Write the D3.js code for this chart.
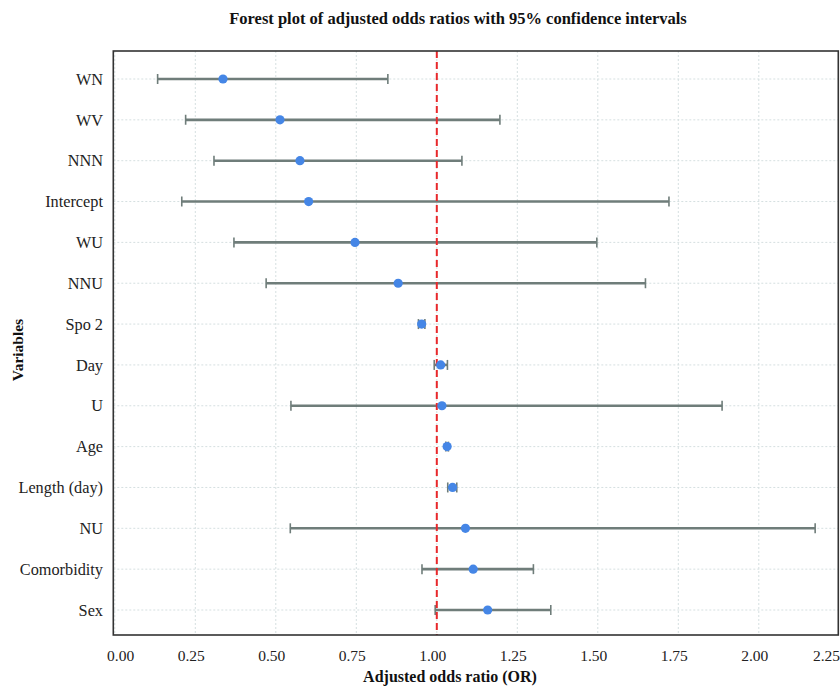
<!DOCTYPE html>
<html>
<head>
<meta charset="utf-8">
<script src="https://cdn.jsdelivr.net/npm/d3@7"></script>
<style>
  html, body { margin: 0; padding: 0; background: #fff; }
  svg { display: block; }
</style>
</head>
<body>
<svg id="chart" width="840" height="687"></svg>
<script>
// ---- Data ----
const variables = ["WN", "WV", "NNN", "Intercept", "WU", "NNU", "Spo 2", "Day", "U", "Age", "Length (day)", "NU", "Comorbidity", "Sex"];
const oddsRatio = [0.336, 0.513, 0.575, 0.602, 0.746, 0.880, 0.953, 1.012, 1.016, 1.032, 1.049, 1.089, 1.113, 1.158];
const ciLower   = [0.133, 0.220, 0.308, 0.208, 0.370, 0.470, 0.943, 0.992, 0.547, 1.028, 1.034, 0.545, 0.954, 0.995];
const ciUpper   = [0.848, 1.196, 1.078, 1.721, 1.497, 1.648, 0.963, 1.033, 1.886, 1.036, 1.062, 2.175, 1.300, 1.354];
const xTicks = [0, 0.25, 0.5, 0.75, 1.0, 1.25, 1.5, 1.75, 2.0, 2.25];
const referenceValue = 1.0;
const titleText = "Forest plot of adjusted odds ratios with 95% confidence intervals";
const xLabelText = "Adjusted odds ratio (OR)";
const yLabelText = "Variables";

const rows = variables.map((v, i) => ({ name: v, or: oddsRatio[i], lo: ciLower[i], hi: ciUpper[i] }));

// ---- Layout ----
const W = 840, H = 687;
const frame = { left: 113.3, right: 838.3, top: 51, bottom: 635 };
const serif = "'Liberation Serif', 'DejaVu Serif', serif";

const svg = d3.select("#chart");

const x = d3.scaleLinear().domain([0, 2.25]).range([114.8, 839.3]);
const y = d3.scalePoint().domain(variables).range([79, 610]);

const clipId = "plotClip";
svg.append("defs").append("clipPath").attr("id", clipId)
  .append("rect")
  .attr("x", frame.left).attr("y", frame.top)
  .attr("width", frame.right - frame.left).attr("height", frame.bottom - frame.top);

const plot = svg.append("g").attr("clip-path", `url(#${clipId})`);

// vertical grid
plot.append("g").selectAll("line").data(xTicks).join("line")
  .attr("x1", d => x(d)).attr("x2", d => x(d))
  .attr("y1", frame.top).attr("y2", frame.bottom)
  .attr("stroke", "#d5dfe0").attr("stroke-width", 1)
  .attr("stroke-dasharray", "2,2");

// horizontal grid at each variable
plot.append("g").selectAll("line").data(variables).join("line")
  .attr("x1", frame.left).attr("x2", frame.right)
  .attr("y1", d => y(d)).attr("y2", d => y(d))
  .attr("stroke", "#d5dfe0").attr("stroke-width", 1)
  .attr("stroke-dasharray", "2,2");

// error bars
const barColor = "#6f7d7a";
const eb = plot.append("g").selectAll("g").data(rows).join("g");
eb.append("line")
  .attr("x1", d => x(d.lo)).attr("x2", d => x(d.hi))
  .attr("y1", d => y(d.name)).attr("y2", d => y(d.name))
  .attr("stroke", barColor).attr("stroke-width", 2.6);
eb.append("line")
  .attr("x1", d => x(d.lo)).attr("x2", d => x(d.lo))
  .attr("y1", d => y(d.name) - 5).attr("y2", d => y(d.name) + 5)
  .attr("stroke", barColor).attr("stroke-width", 1.6);
eb.append("line")
  .attr("x1", d => x(d.hi)).attr("x2", d => x(d.hi))
  .attr("y1", d => y(d.name) - 5).attr("y2", d => y(d.name) + 5)
  .attr("stroke", barColor).attr("stroke-width", 1.6);

// reference line
plot.append("line")
  .attr("x1", x(referenceValue)).attr("x2", x(referenceValue))
  .attr("y1", frame.top).attr("y2", frame.bottom)
  .attr("stroke", "#e8282b").attr("stroke-width", 2)
  .attr("stroke-dasharray", "7,4");

// points
plot.append("g").selectAll("circle").data(rows).join("circle")
  .attr("cx", d => x(d.or)).attr("cy", d => y(d.name))
  .attr("r", 4.6)
  .attr("fill", "#4586e6");

// frame
svg.append("rect")
  .attr("x", frame.left).attr("y", frame.top)
  .attr("width", frame.right - frame.left).attr("height", frame.bottom - frame.top)
  .attr("fill", "none").attr("stroke", "#333").attr("stroke-width", 1.6);

// y labels
svg.append("g").selectAll("text").data(variables).join("text")
  .attr("x", 103).attr("y", d => y(d)).attr("dy", "0.35em")
  .attr("text-anchor", "end")
  .attr("font-family", serif).attr("font-size", 16.3).attr("fill", "#222")
  .text(d => d);

// x tick labels (nudged like the reference, clamped inside the canvas)
const tl = svg.append("g").selectAll("text").data(xTicks).join("text")
  .attr("y", 661)
  .attr("text-anchor", "middle")
  .attr("font-family", serif).attr("font-size", 15.5).attr("fill", "#222")
  .text(d => d3.format(".2f")(d));
tl.each(function(d) {
  const w = this.getComputedTextLength();
  let cx = x(d) - 4;
  cx = Math.max(cx, 107 + w / 2);
  cx = Math.min(cx, W - w / 2);
  d3.select(this).attr("x", cx);
});

// title
svg.append("text")
  .attr("x", 458).attr("y", 24).attr("text-anchor", "middle")
  .attr("font-family", serif).attr("font-size", 16.5).attr("font-weight", "bold").attr("fill", "#111")
  .text(titleText);

// x axis label
svg.append("text")
  .attr("x", 450).attr("y", 682).attr("text-anchor", "middle")
  .attr("font-family", serif).attr("font-size", 16).attr("font-weight", "bold").attr("fill", "#111")
  .text(xLabelText);

// y axis label
svg.append("text")
  .attr("transform", `translate(23, 350) rotate(-90)`)
  .attr("text-anchor", "middle")
  .attr("font-family", serif).attr("font-size", 15.5).attr("font-weight", "bold").attr("fill", "#111")
  .text(yLabelText);
</script>
</body>
</html>
